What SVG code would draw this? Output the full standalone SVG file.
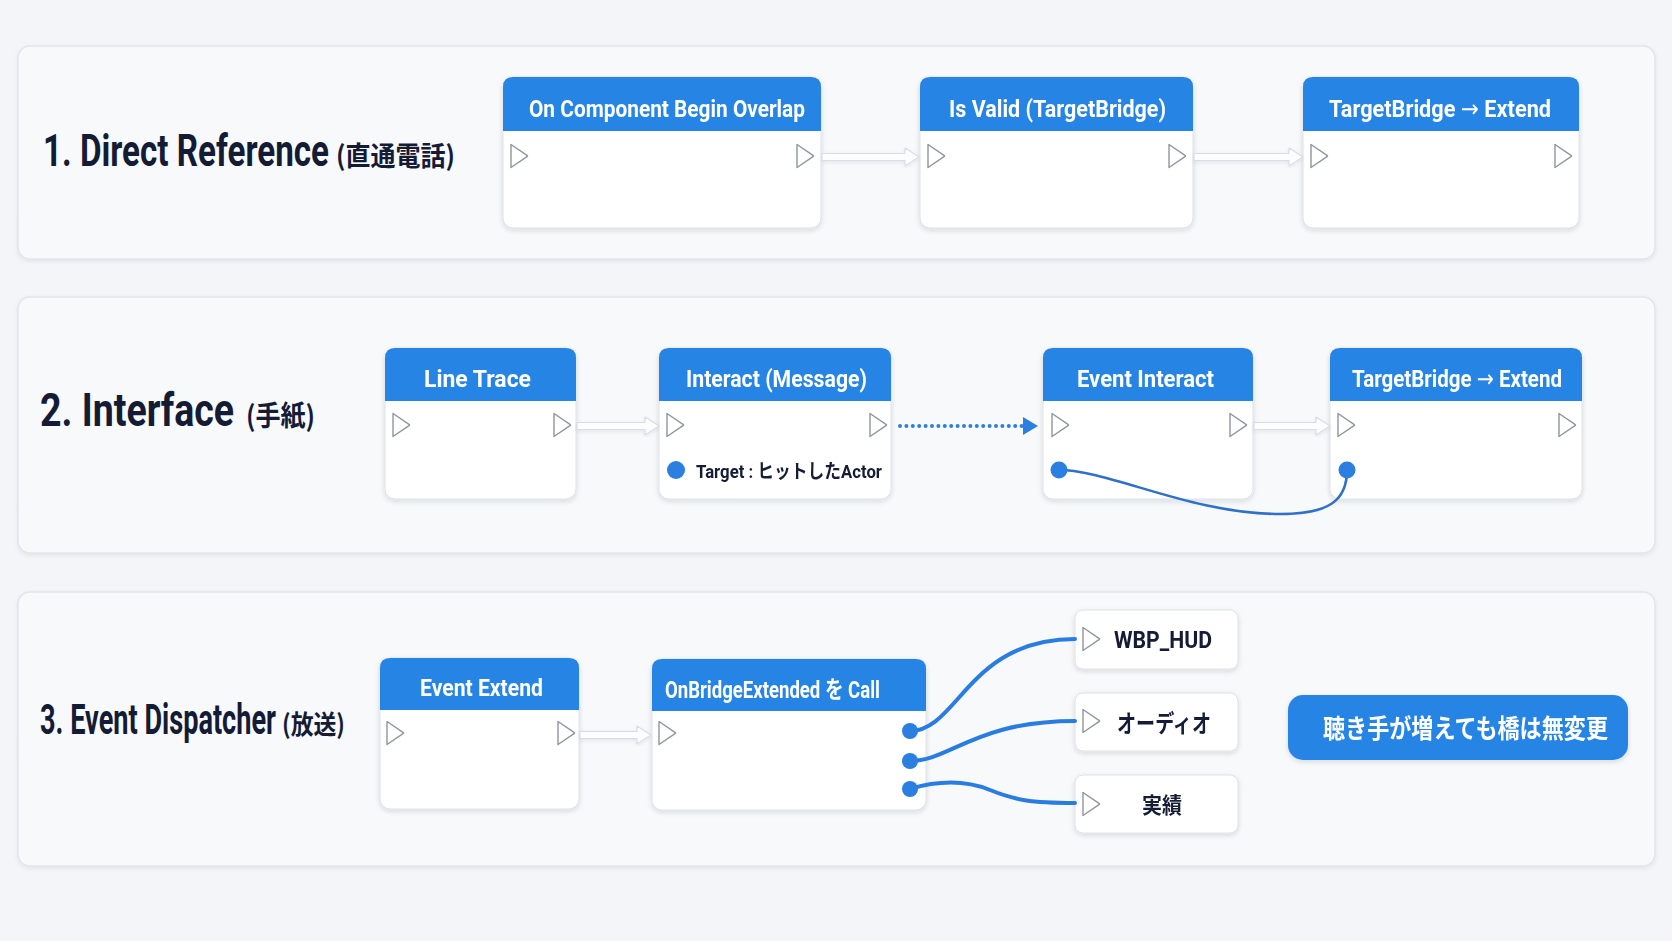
<svg xmlns="http://www.w3.org/2000/svg" xmlns:xlink="http://www.w3.org/1999/xlink" width="1672" height="941" viewBox="0 0 1672 941">
<defs>
<style>
.bg{fill:#f3f5f8}
.panel{fill:#f8f9fb;stroke:#e1e5ea;stroke-width:1.5}
.title{font-family:Roboto,"Liberation Sans","Noto Sans CJK JP",sans-serif;font-weight:700;fill:#141b34}
.titlej{font-family:"Noto Sans CJK JP",Roboto,sans-serif;font-weight:700;fill:#141b34}
.body{fill:#ffffff;stroke:#dde1e6;stroke-width:1}
.head{fill:#2884e4}
.htext{font-family:Roboto,"Liberation Sans","Noto Sans CJK JP",sans-serif;font-weight:700;font-size:24px;fill:#ffffff}
.arr{font-family:"DejaVu Sans",sans-serif;font-weight:400}
.pin{fill:#ffffff;stroke:#90969f;stroke-width:1.4;stroke-linejoin:round}
.dpin{fill:#2a7fe0}
.exec{fill:#fcfdfe;stroke:#d9dde3;stroke-width:1.2;stroke-linejoin:round}
.wire{fill:none;stroke:#2a7de0;stroke-width:4;stroke-linecap:round}
.wire2{fill:none;stroke:#2f71c9;stroke-width:2.6;stroke-linecap:round}
.dots{fill:none;stroke:#2a7fe0;stroke-width:4;stroke-linecap:round;stroke-dasharray:0 6.4}
.label{font-family:Roboto,"Liberation Sans","Noto Sans CJK JP",sans-serif;font-weight:700;fill:#141b34}
.callout{fill:#2884e4}
.ctext{font-family:"Noto Sans CJK JP",sans-serif;font-weight:700;font-size:26px;fill:#ffffff}
</style>
<filter id="sh" x="-10%" y="-10%" width="120%" height="130%">
<feDropShadow dx="0" dy="2" stdDeviation="2.5" flood-color="#1b2a44" flood-opacity="0.14"/>
</filter>
<filter id="psh" x="-5%" y="-5%" width="110%" height="115%">
<feDropShadow dx="0" dy="1.5" stdDeviation="2" flood-color="#1b2a44" flood-opacity="0.08"/>
</filter>
<path id="ex" d="M0,-11.5 L16,-0.6 Q17,0 16,0.6 L0,11.5 Z"/>
</defs>
<rect class="bg" x="0" y="0" width="1672" height="941"/>

<g id="panels" filter="url(#psh)">
<rect class="panel" x="18" y="46" width="1637" height="213" rx="12"/>
<rect class="panel" x="18" y="297" width="1637" height="256" rx="12"/>
<rect class="panel" x="18" y="592" width="1637" height="274" rx="12"/>
</g>

<g id="titles">
<text class="title" x="43" y="166" font-size="45" textLength="286" lengthAdjust="spacingAndGlyphs">1. Direct Reference</text>
<text class="titlej" x="336" y="166" font-size="27" textLength="119" lengthAdjust="spacingAndGlyphs">(直通電話)</text>
<text class="title" x="40" y="426" font-size="46" textLength="194" lengthAdjust="spacingAndGlyphs">2. Interface</text>
<text class="titlej" x="246" y="426" font-size="28" textLength="69" lengthAdjust="spacingAndGlyphs">(手紙)</text>
<text class="title" x="40" y="734" font-size="43" textLength="236" lengthAdjust="spacingAndGlyphs">3. Event Dispatcher</text>
<text class="titlej" x="282" y="734" font-size="26" textLength="63" lengthAdjust="spacingAndGlyphs">(放送)</text>
</g>

<g id="n1" filter="url(#sh)">
<rect class="body" x="503" y="77" width="318" height="151" rx="10"/>
<path class="head" d="M503,131 L503,87 Q503,77 513,77 L811,77 Q821,77 821,87 L821,131 Z"/>
<text class="htext" x="529" y="116.5" textLength="276" lengthAdjust="spacingAndGlyphs">On Component Begin Overlap</text>
<use href="#ex" class="pin" x="511" y="156"/>
<use href="#ex" class="pin" x="797" y="156"/>
</g>
<g id="n2" filter="url(#sh)">
<rect class="body" x="920" y="77" width="273" height="151" rx="10"/>
<path class="head" d="M920,131 L920,87 Q920,77 930,77 L1183,77 Q1193,77 1193,87 L1193,131 Z"/>
<text class="htext" x="949" y="116.5" textLength="217" lengthAdjust="spacingAndGlyphs">Is Valid (TargetBridge)</text>
<use href="#ex" class="pin" x="928" y="156"/>
<use href="#ex" class="pin" x="1169" y="156"/>
</g>
<g id="n3" filter="url(#sh)">
<rect class="body" x="1303" y="77" width="276" height="151" rx="10"/>
<path class="head" d="M1303,131 L1303,87 Q1303,77 1313,77 L1569,77 Q1579,77 1579,87 L1579,131 Z"/>
<text class="htext" x="1329" y="116.5" textLength="222" lengthAdjust="spacingAndGlyphs">TargetBridge <tspan class="arr">→</tspan> Extend</text>
<use href="#ex" class="pin" x="1311" y="156"/>
<use href="#ex" class="pin" x="1555" y="156"/>
</g>

<g id="n4" filter="url(#sh)">
<rect class="body" x="385" y="348" width="191" height="151" rx="10"/>
<path class="head" d="M385,401 L385,358 Q385,348 395,348 L566,348 Q576,348 576,358 L576,401 Z"/>
<text class="htext" x="424" y="387" textLength="107" lengthAdjust="spacingAndGlyphs">Line Trace</text>
<use href="#ex" class="pin" x="393" y="425"/>
<use href="#ex" class="pin" x="554" y="425"/>
</g>
<g id="n5" filter="url(#sh)">
<rect class="body" x="659" y="348" width="232" height="151" rx="10"/>
<path class="head" d="M659,401 L659,358 Q659,348 669,348 L881,348 Q891,348 891,358 L891,401 Z"/>
<text class="htext" x="686" y="387" textLength="181" lengthAdjust="spacingAndGlyphs">Interact (Message)</text>
<use href="#ex" class="pin" x="667" y="425"/>
<use href="#ex" class="pin" x="870" y="425"/>
<circle class="dpin" cx="676" cy="470" r="9"/>
<text class="label" x="696" y="478" font-size="19" textLength="186" lengthAdjust="spacingAndGlyphs">Target : ヒットしたActor</text>
</g>
<g id="n6" filter="url(#sh)">
<rect class="body" x="1043" y="348" width="210" height="151" rx="10"/>
<path class="head" d="M1043,401 L1043,358 Q1043,348 1053,348 L1243,348 Q1253,348 1253,358 L1253,401 Z"/>
<text class="htext" x="1077" y="387" textLength="137" lengthAdjust="spacingAndGlyphs">Event Interact</text>
<use href="#ex" class="pin" x="1052" y="425"/>
<use href="#ex" class="pin" x="1230" y="425"/>
</g>
<g id="n7" filter="url(#sh)">
<rect class="body" x="1330" y="348" width="252" height="151" rx="10"/>
<path class="head" d="M1330,401 L1330,358 Q1330,348 1340,348 L1572,348 Q1582,348 1582,358 L1582,401 Z"/>
<text class="htext" x="1352" y="387" textLength="210" lengthAdjust="spacingAndGlyphs">TargetBridge <tspan class="arr">→</tspan> Extend</text>
<use href="#ex" class="pin" x="1338" y="425"/>
<use href="#ex" class="pin" x="1559" y="425"/>
</g>

<g id="n8" filter="url(#sh)">
<rect class="body" x="380" y="658" width="199" height="151" rx="10"/>
<path class="head" d="M380,710 L380,668 Q380,658 390,658 L569,658 Q579,658 579,668 L579,710 Z"/>
<text class="htext" x="420" y="696" textLength="123" lengthAdjust="spacingAndGlyphs">Event Extend</text>
<use href="#ex" class="pin" x="387" y="733"/>
<use href="#ex" class="pin" x="558" y="733"/>
</g>
<g id="n9" filter="url(#sh)">
<rect class="body" x="652" y="659" width="274" height="151" rx="10"/>
<path class="head" d="M652,711 L652,669 Q652,659 662,659 L916,659 Q926,659 926,669 L926,711 Z"/>
<text class="htext" x="665" y="698" textLength="215" lengthAdjust="spacingAndGlyphs">OnBridgeExtended を Call</text>
<use href="#ex" class="pin" x="659" y="733"/>
</g>

<g id="n10" filter="url(#sh)">
<rect class="body" x="1075" y="610" width="163" height="59" rx="8"/>
<use href="#ex" class="pin" x="1083" y="639"/>
<text class="label" x="1114" y="648" font-size="23" textLength="98" lengthAdjust="spacingAndGlyphs">WBP_HUD</text>
</g>
<g id="n11" filter="url(#sh)">
<rect class="body" x="1075" y="693" width="163" height="58" rx="8"/>
<use href="#ex" class="pin" x="1083" y="721"/>
<text class="label" x="1117" y="732" font-size="24" textLength="94" lengthAdjust="spacingAndGlyphs">オーディオ</text>
</g>
<g id="n12" filter="url(#sh)">
<rect class="body" x="1075" y="775" width="163" height="58" rx="8"/>
<use href="#ex" class="pin" x="1083" y="804"/>
<text class="label" x="1142" y="813" font-size="22" textLength="40" lengthAdjust="spacingAndGlyphs">実績</text>
</g>

<g id="note" filter="url(#sh)">
<rect class="callout" x="1288" y="695" width="340" height="65" rx="15"/>
<text class="ctext" x="1323" y="738" textLength="285" lengthAdjust="spacingAndGlyphs">聴き手が増えても橋は無変更</text>
</g>

<g id="connectors">
<path class="exec" filter="url(#psh)" d="M822,153.5 L905,153.5 L905,148 L919,157 L905,166 L905,160.5 L822,160.5 Z"/>
<path class="exec" filter="url(#psh)" d="M1194,153.5 L1289,153.5 L1289,148 L1303,157 L1289,166 L1289,160.5 L1194,160.5 Z"/>
<path class="exec" filter="url(#psh)" d="M577,422.5 L645,422.5 L645,417 L659,426 L645,435 L645,429.5 L577,429.5 Z"/>
<path class="exec" filter="url(#psh)" d="M1254,422.5 L1316,422.5 L1316,417 L1330,426 L1316,435 L1316,429.5 L1254,429.5 Z"/>
<path class="exec" filter="url(#psh)" d="M580,731.5 L637,731.5 L637,726 L651,735 L637,744 L637,738.5 L580,738.5 Z"/>
<path class="dots" d="M900,426 L1022,426"/>
<path d="M1023,417 L1038,426 L1023,435 Z" fill="#2a7fe0"/>
<path class="wire2" d="M1059,470 C1110,470 1190,514 1280,514 C1330,514 1347,500 1347,470"/>
<circle class="dpin" cx="1059" cy="470" r="8.5"/>
<circle class="dpin" cx="1347" cy="470" r="8.5"/>
<path class="wire" d="M910,731 C958,731 968,639 1075,639"/>
<path class="wire" d="M910,761 C950,761 975,721 1075,721"/>
<path class="wire" d="M910,789 C940,780 965,780 990,790 C1015,800 1030,803 1075,803"/>
<circle class="dpin" cx="910" cy="731" r="8"/>
<circle class="dpin" cx="910" cy="761" r="8"/>
<circle class="dpin" cx="910" cy="789" r="8"/>
</g>
</svg>
